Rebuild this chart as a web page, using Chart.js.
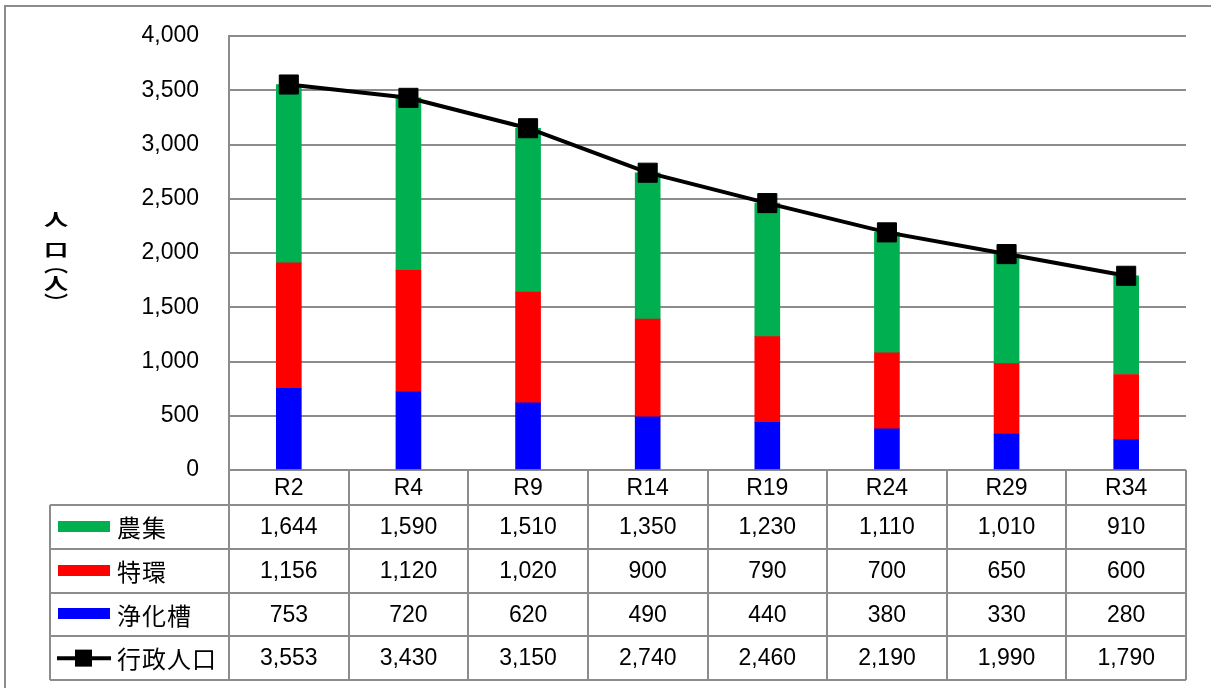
<!DOCTYPE html>
<html>
<head>
<meta charset="utf-8">
<script src="https://cdn.jsdelivr.net/npm/chart.js@4.4.1/dist/chart.umd.min.js"></script>
<style>
  html, body { margin: 0; padding: 0; background: #ffffff; }
  #wrap { width: 1211px; height: 688px; position: relative; }
</style>
</head>
<body>
<div id="wrap"><canvas id="chart" width="1211" height="688"></canvas></div>
<script>
// Population by treatment type (persons)
const categories = ['R2', 'R4', 'R9', 'R14', 'R19', 'R24', 'R29', 'R34'];
const nousyu     = [1644, 1590, 1510, 1350, 1230, 1110, 1010, 910];   // 農集
const tokkan     = [1156, 1120, 1020, 900, 790, 700, 650, 600];       // 特環
const jokaso     = [753, 720, 620, 490, 440, 380, 330, 280];          // 浄化槽
const gyoseiPop  = [3553, 3430, 3150, 2740, 2460, 2190, 1990, 1790];  // 行政人口
const yAxisTitle = ['人', '口', '︵', '人', '︶'];

const GREEN = '#00B050', RED = '#FF0000', BLUE = '#0000FF', LINE = '#8c8c8c';
const NUM_FONT = '23px "Liberation Sans", Arial, sans-serif';
const JP_FONT = '24px "Noto Sans CJK JP", sans-serif';

const fmt = v => v.toLocaleString('en-US');

// Data table under the plot, with legend keys in the first column
const tablePlugin = {
  id: 'dataTable',
  afterDraw(chart) {
    const ctx = chart.ctx;
    const area = chart.chartArea;
    const xs = chart.scales.x;
    const n = categories.length;
    const colW = (area.right - area.left) / n;
    const headerH = 35;
    const rowH = 43.75;
    const labelLeft = 50;
    const top = area.bottom;
    const rowsTop = top + headerH;

    // table rows follow the legend order: 農集, 特環, 浄化槽, 行政人口
    const rows = [
      { label: '農集', data: nousyu, color: GREEN, kind: 'bar' },
      { label: '特環', data: tokkan, color: RED, kind: 'bar' },
      { label: '浄化槽', data: jokaso, color: BLUE, kind: 'bar' },
      { label: '行政人口', data: gyoseiPop, color: '#000', kind: 'line' }
    ];
    const bottom = rowsTop + rowH * rows.length;

    ctx.save();
    ctx.strokeStyle = LINE;
    ctx.lineWidth = 2;

    // horizontal rules
    ctx.beginPath();
    for (let r = 0; r <= rows.length; r++) {
      const y = Math.round(rowsTop + r * rowH);
      ctx.moveTo(labelLeft, y);
      ctx.lineTo(area.right, y);
    }
    // vertical rules
    for (let i = 0; i <= n; i++) {
      const x = Math.round(area.left + i * colW);
      ctx.moveTo(x, top);
      ctx.lineTo(x, bottom);
    }
    ctx.moveTo(labelLeft, rowsTop);
    ctx.lineTo(labelLeft, bottom);
    ctx.stroke();

    // category headers
    ctx.fillStyle = '#000';
    ctx.font = NUM_FONT;
    ctx.textAlign = 'center';
    ctx.textBaseline = 'middle';
    categories.forEach((c, i) => {
      ctx.fillText(c, xs.getPixelForValue(i), top + headerH / 2 + 1);
    });

    // values
    rows.forEach((row, r) => {
      const cy = rowsTop + r * rowH + rowH / 2 + 1;
      row.data.forEach((v, i) => {
        ctx.fillText(fmt(v), xs.getPixelForValue(i), cy);
      });
    });

    // legend keys and series names
    rows.forEach((row, r) => {
      const cy = rowsTop + r * rowH + rowH / 2;
      if (row.kind === 'bar') {
        ctx.fillStyle = row.color;
        ctx.fillRect(58, Math.round(cy) - 6, 52, 11);
      } else {
        ctx.strokeStyle = '#000';
        ctx.lineWidth = 4;
        ctx.beginPath();
        ctx.moveTo(57, cy);
        ctx.lineTo(111, cy);
        ctx.stroke();
        ctx.fillStyle = '#000';
        ctx.fillRect(75, cy - 8.5, 17, 17);
      }
      ctx.fillStyle = '#000';
      ctx.font = JP_FONT;
      ctx.textAlign = 'left';
      ctx.textBaseline = 'middle';
      [...row.label].forEach((ch, k) => {
        ctx.fillText(ch, 117 + k * 25, cy + 1);
      });
    });

    // vertical axis title
    ctx.font = 'bold 22px "Noto Sans CJK JP", sans-serif';
    ctx.textAlign = 'center';
    ctx.textBaseline = 'middle';
    const titleY = [220, 250, 266, 284, 302];
    yAxisTitle.forEach((ch, k) => {
      ctx.save();
      ctx.translate(56, titleY[k]);
      ctx.scale(1.1, 0.75);
      ctx.fillText(ch, 0, 0);
      ctx.restore();
    });

    // outer frame
    ctx.strokeStyle = LINE;
    ctx.lineWidth = 2;
    ctx.strokeRect(5, 6, 1230, 700);
    ctx.restore();
  }
};

new Chart(document.getElementById('chart'), {
  data: {
    labels: categories,
    datasets: [
      { type: 'line', label: '行政人口', data: gyoseiPop, order: 0,
        borderColor: '#000', borderWidth: 4, backgroundColor: '#000',
        pointStyle: 'rect', pointRadius: 13.5, pointBorderWidth: 1,
        pointBackgroundColor: '#000', pointBorderColor: '#000',
        stack: 'total', tension: 0, fill: false },
      { type: 'bar', label: '浄化槽', data: jokaso, backgroundColor: BLUE, order: 1, stack: 'bars' },
      { type: 'bar', label: '特環', data: tokkan, backgroundColor: RED, order: 1, stack: 'bars' },
      { type: 'bar', label: '農集', data: nousyu, backgroundColor: GREEN, order: 1, stack: 'bars' }
    ]
  },
  options: {
    responsive: false,
    devicePixelRatio: 1,
    animation: false,
    layout: { padding: { left: 0, top: 36, right: 25, bottom: 218 } },
    datasets: { bar: { barThickness: 25 } },
    plugins: { legend: { display: false }, tooltip: { enabled: false } },
    scales: {
      x: { stacked: true, display: false, offset: true },
      y: {
        stacked: true, min: 0, max: 4000,
        // fixed axis width; the label gap should not push the plot down
        afterFit(scale) {
          scale.width = 229;
          scale.paddingTop = 0;
          scale.paddingBottom = 0;
        },
        grid: { color: LINE, lineWidth: 2, drawTicks: false },
        border: { display: true, color: LINE, width: 2 },
        ticks: { stepSize: 500, padding: 30, color: '#000',
          font: { family: '"Liberation Sans", Arial, sans-serif', size: 23 },
          callback: v => fmt(v) }
      }
    }
  },
  plugins: [tablePlugin]
});
</script>
</body>
</html>
